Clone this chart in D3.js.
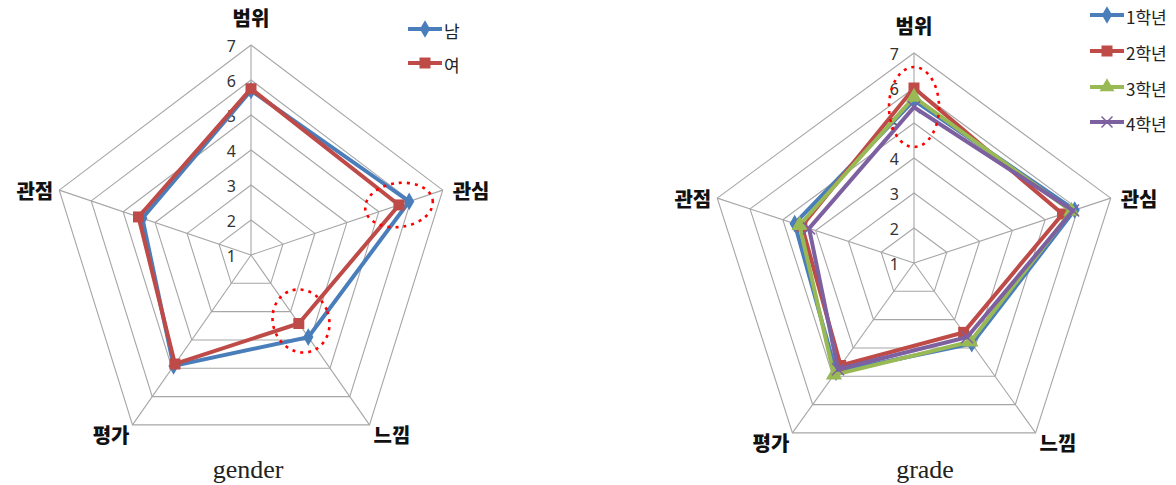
<!DOCTYPE html>
<html><head><meta charset="utf-8">
<script src="https://cdn.jsdelivr.net/npm/d3@7"></script>
<style>body{margin:0;background:#fff}svg{display:block}</style>
</head><body>
<svg id="c" width="1176" height="485"></svg>
<script>
const categories = ["범위","관심","느낌","평가","관점"];
const tickValues = [1,2,3,4,5,6,7];
const genderSeries = ["남","여"];
const maleValues = [5.7, 5.95, 3.9, 4.92, 4.4];
const femaleValues = [5.75, 5.63, 3.42, 4.85, 4.52];
const gradeSeries = ["1학년","2학년","3학년","4학년"];
const grade1Values = [5.65, 5.9, 3.85, 4.85, 4.64];
const grade2Values = [6.0, 5.53, 3.45, 4.62, 4.42];
const grade3Values = [5.74, 5.8, 3.78, 4.95, 4.49];
const grade4Values = [5.45, 5.85, 3.62, 4.75, 4.2];
const chartTitles = ["gender","grade"];

const colors = ["#4a7ebb","#be4b48","#98b954","#7d60a0"];
const markers = ["diamond","square","triangle","x"];

const svg = d3.select("#c");

function markerPath(type, s){
  if(type==="diamond") return d3.symbol(d3.symbolDiamond, s*s*0.75)();
  if(type==="square") return d3.symbol(d3.symbolSquare, s*s)();
  if(type==="triangle") return d3.symbol(d3.symbolTriangle, s*s*0.8)();
  const h=s/2; return `M${-h},${-h}L${h},${h}M${-h},${h}L${h},${-h}`;
}

function drawMarker(g, type, x, y, color, s){
  const p = g.append("path").attr("d", markerPath(type,s)).attr("transform",`translate(${x},${y})`);
  if(type==="x") p.attr("fill","none").attr("stroke",color).attr("stroke-width",1.5);
  else p.attr("fill",color).attr("stroke","none");
}

function radar(cx, cy, kx, seriesNames, seriesData, title, titleX, legendX, legendYs){
  const r = d3.scaleLinear().domain([1,7]).range([0,210]);
  const ang = i => -Math.PI/2 + i*2*Math.PI/categories.length;
  const pt = (i,v) => [cx + kx*r(v)*Math.cos(ang(i)), cy + r(v)*Math.sin(ang(i))];
  const g = svg.append("g");
  tickValues.slice(1).forEach(t=>{
    g.append("path").attr("d", d3.line()(categories.map((c,i)=>pt(i,t)))+"Z")
      .attr("fill","none").attr("stroke","#a6a6a6").attr("stroke-width",1.1);
  });
  categories.forEach((c,i)=>{
    const [x,y]=pt(i,7);
    g.append("line").attr("x1",cx).attr("y1",cy).attr("x2",x).attr("y2",y)
      .attr("stroke","#a6a6a6").attr("stroke-width",1.1);
  });
  tickValues.forEach(t=>{
    g.append("text").attr("x",cx-15).attr("y",cy-r(t)+1).attr("text-anchor","end")
      .attr("dominant-baseline","central").attr("font-family","'Noto Sans', sans-serif")
      .attr("font-size",16).attr("fill","#333").text(t);
  });
  categories.forEach((c,i)=>{
    const [x,y]=pt(i,7);
    let tx=x, ty=y, anchor="middle";
    if(i===0){ ty=y-28; }
    else if(i===1){ tx=x+10; anchor="start"; }
    else if(i===2){ tx=x+4; ty=y+10; anchor="start"; }
    else if(i===3){ tx=x-3; ty=y+10; anchor="end"; }
    else { tx=x-6; anchor="end"; }
    g.append("text").attr("x",tx).attr("y",ty).attr("text-anchor",anchor)
      .attr("dominant-baseline","central").attr("font-family","'Noto Sans CJK KR'")
      .attr("font-weight",900).attr("font-size",20).attr("fill","#111").text(c);
  });
  seriesData.forEach((vals,si)=>{
    const pts = vals.map((v,i)=>pt(i,v));
    g.append("path").attr("d", d3.line()(pts)+"Z").attr("fill","none")
      .attr("stroke",colors[si]).attr("stroke-width",4).attr("stroke-linejoin","miter");
    pts.forEach(p=>drawMarker(g, markers[si], p[0], p[1], colors[si], si===0?11:(si===1?11:12)));
  });
  seriesNames.forEach((n,si)=>{
    const y = legendYs[si];
    g.append("line").attr("x1",legendX).attr("x2",legendX+34).attr("y1",y).attr("y2",y)
      .attr("stroke",colors[si]).attr("stroke-width",4);
    drawMarker(g, markers[si], legendX+17, y, colors[si], 11);
    g.append("text").attr("x",legendX+36).attr("y",y+1).attr("dominant-baseline","central")
      .attr("font-family","'Noto Sans CJK KR'").attr("font-size",17).attr("fill","#222").text(n);
  });
  g.append("text").attr("x",titleX).attr("y",469).attr("text-anchor","middle")
    .attr("dominant-baseline","central").attr("font-family","'Liberation Serif', serif")
    .attr("font-size",26).attr("fill","#222").text(title);
  return {g, pt};
}

const left = radar(251, 255, 0.96, genderSeries, [maleValues, femaleValues], chartTitles[0], 248, 408, [29, 63]);
const right = radar(914, 263, 0.985, gradeSeries, [grade1Values, grade2Values, grade3Values, grade4Values], chartTitles[1], 925, 1090, [15, 51, 87, 122]);

function ell(g, cx, cy, rx, ry, rot){
  g.append("ellipse").attr("cx",cx).attr("cy",cy).attr("rx",rx).attr("ry",ry)
    .attr("transform",`rotate(${rot},${cx},${cy})`)
    .attr("fill","none").attr("stroke","#ff0000").attr("stroke-width",2.6).attr("stroke-dasharray","3,5");
}
ell(left.g, 399, 205, 34, 22, -8);
ell(left.g, 301, 321, 28, 32, -20);
ell(right.g, 914, 107, 25, 40, 0);
</script>
</body></html>
